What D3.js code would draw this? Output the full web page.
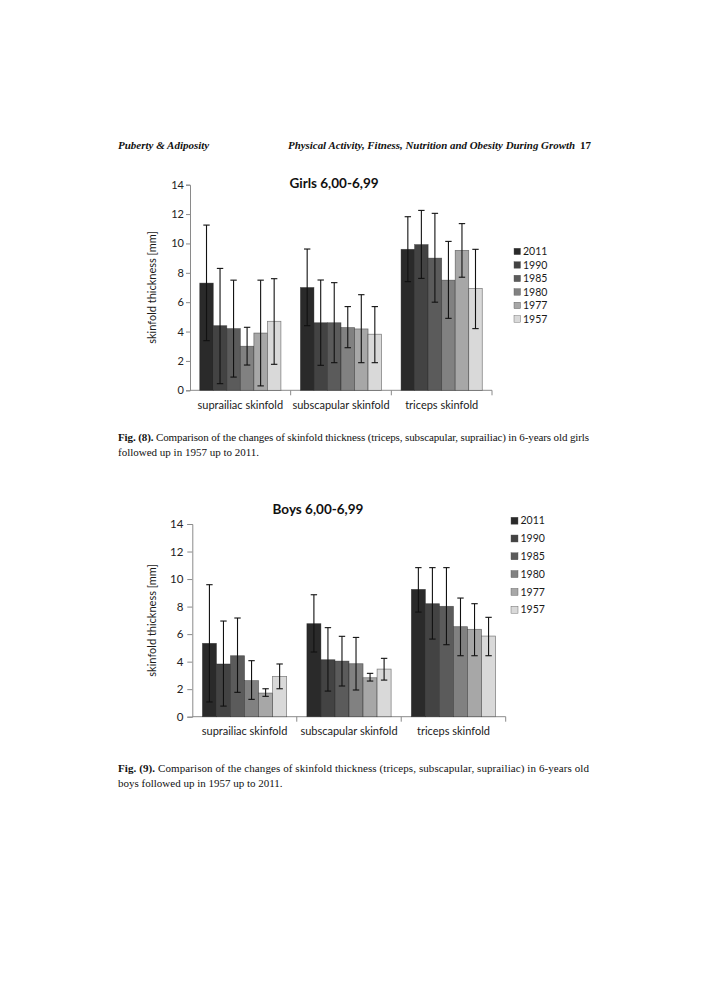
<!DOCTYPE html>
<html>
<head>
<meta charset="utf-8">
<script src="https://cdn.jsdelivr.net/npm/d3@7"></script>
<style>
  body { margin: 0; background: #fff; }
  svg { display: block; }
</style>
</head>
<body>
<svg id="page" width="707" height="1000"></svg>
<script>
/*------------------------------------------*/
/*            Data                          */
/*------------------------------------------*/

var categories = ["suprailiac skinfold", "subscapular skinfold", "triceps skinfold"];
var years = ["2011", "1990", "1985", "1980", "1977", "1957"];
var yTicks = [0, 2, 4, 6, 8, 10, 12, 14];

// girls: mean, low and high end of error bar, one row per category
var girlsMean = [
  [7.3, 4.4, 4.2, 3.0, 3.9, 4.7],
  [7.0, 4.6, 4.6, 4.27, 4.18, 3.82],
  [9.6, 9.92, 9.0, 7.5, 9.53, 6.94]
];
var girlsLow = [
  [3.38, 0.45, 0.9, 1.72, 0.3, 1.77],
  [4.4, 1.7, 1.88, 2.9, 1.88, 1.88],
  [7.4, 7.62, 6.0, 4.9, 7.7, 4.2]
];
var girlsHigh = [
  [11.25, 8.3, 7.5, 4.29, 7.5, 7.6],
  [9.62, 7.51, 7.33, 5.7, 6.51, 5.7],
  [11.82, 12.25, 12.05, 10.14, 11.35, 9.6]
];

// boys
var boysMean = [
  [5.33, 3.83, 4.43, 2.62, 1.72, 2.93],
  [6.76, 4.14, 4.04, 3.85, 2.83, 3.46],
  [9.25, 8.21, 8.02, 6.54, 6.35, 5.86]
];
var boysLow = [
  [1.07, 0.77, 1.77, 1.26, 1.48, 2.03],
  [4.7, 1.86, 2.23, 1.94, 2.59, 2.66],
  [7.6, 5.64, 5.23, 4.43, 4.43, 4.43]
];
var boysHigh = [
  [9.59, 6.95, 7.17, 4.07, 2.03, 3.83],
  [8.86, 6.47, 5.84, 5.76, 3.15, 4.24],
  [10.83, 10.83, 10.83, 8.62, 8.21, 7.22]
];

var colours = ["#2a2a2a", "#434343", "#5b5b5b", "#818181", "#a7a7a7", "#d9d9d9"];

/*------------------------------------------*/
/*            Page                          */
/*------------------------------------------*/

var svg = d3.select("#page");
svg.append("rect").attr("width", 707).attr("height", 1000).attr("fill", "#fff");

var serif = "'Liberation Serif', 'Times New Roman', serif",
    sans = "Lato, Carlito, 'Open Sans', sans-serif";

var header = svg.append("g")
    .attr("font-family", serif)
    .attr("font-size", "11px")
    .attr("font-weight", "bold")
    .attr("fill", "#111");

header.append("text").attr("x", 118).attr("y", 149)
    .attr("font-style", "italic").text("Puberty & Adiposity");
header.append("text").attr("x", 288).attr("y", 149)
    .attr("font-style", "italic")
    .attr("textLength", 287).attr("lengthAdjust", "spacingAndGlyphs")
    .text("Physical Activity, Fitness, Nutrition and Obesity During Growth");
header.append("text").attr("x", 580).attr("y", 149).text("17");

/*------------------------------------------*/
/*            Caption                       */
/*------------------------------------------*/

function caption(y, label, line1, line2) {
  var g = svg.append("g")
      .attr("font-family", serif)
      .attr("font-size", "11px")
      .attr("fill", "#111");
  var t = g.append("text").attr("x", 118).attr("y", y)
      .attr("textLength", 471).attr("lengthAdjust", "spacing");
  t.append("tspan").attr("font-weight", "bold").text(label);
  t.append("tspan").text(line1);
  g.append("text").attr("x", 118).attr("y", y + 15).text(line2);
}

caption(441, "Fig. (8).",
  " Comparison of the changes of skinfold thickness (triceps, subscapular, suprailiac) in 6-years old girls",
  "followed up in 1957 up to 2011.");
caption(772, "Fig. (9).",
  " Comparison of the changes of skinfold thickness (triceps, subscapular, suprailiac) in 6-years old",
  "boys followed up in 1957 up to 2011.");

/*------------------------------------------*/
/*            Chart                         */
/*------------------------------------------*/

function drawChart(opt) {
  var g = svg.append("g").attr("font-family", sans);

  var x0 = d3.scaleBand().domain(categories).range([opt.left, opt.right]);
  var x1 = d3.scaleBand().domain(years).range([0, x0.bandwidth()])
      .paddingInner(0).paddingOuter(0.72);
  var y = d3.scaleLinear().domain([0, 14]).range([opt.bottom, opt.top]);

  // y axis
  var yAxis = g.append("g")
      .attr("transform", "translate(" + opt.left + ",0)")
      .call(d3.axisLeft(y).tickValues(yTicks).tickSize(opt.tickSize).tickPadding(opt.tickPad));
  yAxis.select(".domain").attr("stroke", "#8a8a8a");
  yAxis.selectAll(".tick line").attr("stroke", "#8a8a8a");
  yAxis.selectAll(".tick text")
      .attr("font-family", sans).attr("font-size", opt.tickFont)
      .attr("fill", "#222");

  // x axis, ticks between the categories
  var xAxis = g.append("g").attr("transform", "translate(0," + opt.bottom + ")");
  xAxis.append("line").attr("x1", opt.left).attr("x2", opt.right)
      .attr("stroke", "#8a8a8a");
  xAxis.selectAll("line.sep")
      .data(categories)
      .enter().append("line")
      .attr("class", "sep")
      .attr("x1", function(d) { return x0(d) + x0.bandwidth(); })
      .attr("x2", function(d) { return x0(d) + x0.bandwidth(); })
      .attr("y1", 0).attr("y2", 5)
      .attr("stroke", "#8a8a8a");
  xAxis.selectAll("text")
      .data(categories)
      .enter().append("text")
      .attr("x", function(d) { return x0(d) + x0.bandwidth() / 2; })
      .attr("y", opt.labelDy)
      .attr("text-anchor", "middle")
      .attr("font-size", opt.labelFont)
      .attr("fill", "#1a1a1a")
      .text(function(d) { return d; });

  // bars
  var rows = [];
  categories.forEach(function(c, ci) {
    years.forEach(function(yr, yi) {
      rows.push({cat: c, year: yr, i: yi,
                 v: opt.mean[ci][yi], lo: opt.low[ci][yi], hi: opt.high[ci][yi]});
    });
  });

  g.selectAll("rect.bar")
      .data(rows)
      .enter().append("rect")
      .attr("class", "bar")
      .attr("x", function(d) { return x0(d.cat) + x1(d.year); })
      .attr("y", function(d) { return y(d.v); })
      .attr("width", x1.bandwidth())
      .attr("height", function(d) { return y(0) - y(d.v); })
      .attr("fill", function(d) { return colours[d.i]; })
      .attr("stroke", "#1e1e1e")
      .attr("stroke-opacity", 0.55)
      .attr("stroke-width", 0.7);

  // error bars
  var err = g.selectAll("g.err")
      .data(rows)
      .enter().append("g")
      .attr("class", "err")
      .attr("transform", function(d) {
        return "translate(" + (x0(d.cat) + x1(d.year) + x1.bandwidth() / 2) + ",0)";
      })
      .attr("stroke", "#111")
      .attr("stroke-width", 1.1);
  err.append("line")
      .attr("y1", function(d) { return y(d.lo); })
      .attr("y2", function(d) { return y(d.hi); });
  err.append("line").attr("x1", -3.2).attr("x2", 3.2)
      .attr("y1", function(d) { return y(d.hi); })
      .attr("y2", function(d) { return y(d.hi); });
  err.append("line").attr("x1", -3.2).attr("x2", 3.2)
      .attr("y1", function(d) { return y(d.lo); })
      .attr("y2", function(d) { return y(d.lo); });

  // axis title
  g.append("text")
      .attr("transform", "translate(" + opt.yLabelX + "," + ((opt.top + opt.bottom) / 2) + ") rotate(-90)")
      .attr("text-anchor", "middle")
      .attr("font-size", opt.labelFont)
      .attr("fill", "#1a1a1a")
      .text("skinfold thickness [mm]");

  // chart title
  g.append("text")
      .attr("x", opt.titleX).attr("y", opt.titleY)
      .attr("text-anchor", "middle")
      .attr("font-size", "13.5px")
      .attr("font-weight", "bold")
      .attr("fill", "#111")
      .text(opt.title);

  // legend
  var legend = g.selectAll("g.legend")
      .data(years)
      .enter().append("g")
      .attr("class", "legend")
      .attr("transform", function(d, i) {
        return "translate(" + opt.legendX + "," + (opt.legendY + opt.legendStep * i) + ")";
      });
  legend.append("rect")
      .attr("x", 0).attr("y", -3.5)
      .attr("width", opt.swatch).attr("height", opt.swatch)
      .attr("fill", function(d, i) { return colours[i]; })
      .attr("stroke", "#555").attr("stroke-width", 0.4);
  legend.append("text")
      .attr("x", opt.swatch + 2.5).attr("y", 0)
      .attr("dy", "0.35em")
      .attr("font-size", "10.5px")
      .attr("fill", "#1a1a1a")
      .text(function(d) { return d; });
}

drawChart({
  title: "Girls 6,00-6,99", titleX: 334, titleY: 188,
  mean: girlsMean, low: girlsLow, high: girlsHigh,
  left: 190, right: 492, top: 184.7, bottom: 390.3,
  tickSize: 4, tickPad: 2, tickFont: "11px",
  labelFont: "11px", labelDy: 19, yLabelX: 156,
  legendX: 514, legendY: 251.7, legendStep: 13.5, swatch: 6.5
});

drawChart({
  title: "Boys 6,00-6,99", titleX: 318, titleY: 514,
  mean: boysMean, low: boysLow, high: boysHigh,
  left: 192.3, right: 505.7, top: 524, bottom: 716.7,
  tickSize: 5, tickPad: 4, tickFont: "11.5px",
  labelFont: "11px", labelDy: 18, yLabelX: 156,
  legendX: 511, legendY: 520.7, legendStep: 17.8, swatch: 7
});
</script>
</body>
</html>
